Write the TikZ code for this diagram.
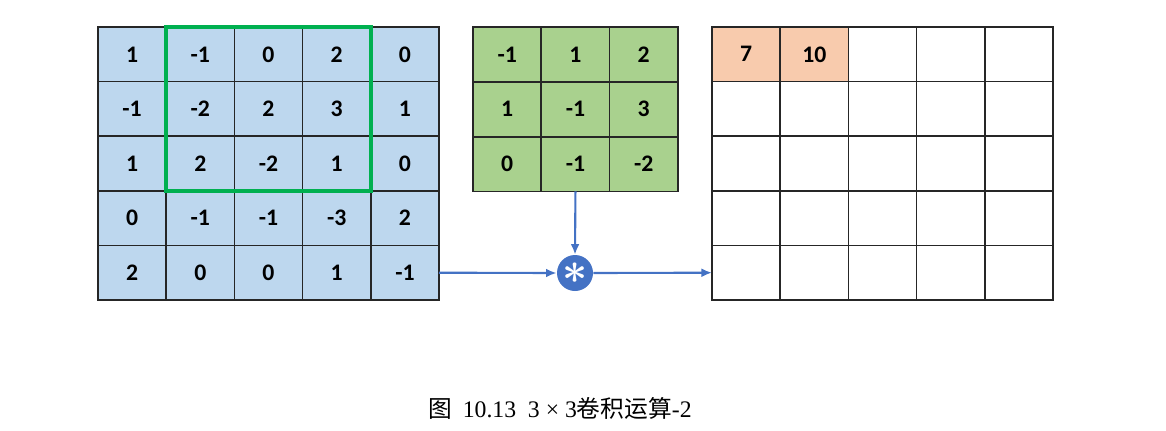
\documentclass[tikz,border=0pt]{standalone}
\usepackage{amsmath,bm}
\usepackage{fontspec}
\setmainfont{Liberation Serif}
\newfontfamily\cjk{Noto Sans CJK SC}
\newfontfamily\cellfont{Carlito}
\usetikzlibrary{arrows.meta}
\definecolor{infill}{HTML}{BDD7EE}
\definecolor{kfill}{HTML}{A9D18E}
\definecolor{outfill}{HTML}{F8CBAD}
\definecolor{winedge}{HTML}{00B050}
\definecolor{flow}{HTML}{4472C4}

\begin{document}
\begin{tikzpicture}[x=0.02cm,y=-0.02cm,>={Latex[length=6pt,width=5pt]},
  cell/.style={draw=black!85,line width=0.9pt,minimum width=1.364cm,minimum height=1.092cm,
    inner sep=0pt,outer sep=0pt,font=\cellfont\bfseries\fontsize{13.5}{15}\selectfont},
  incell/.style={cell,fill=infill},
  kcell/.style={cell,fill=kfill},
  outcell/.style={cell,fill=white},
  window/.style={draw=winedge,line width=2.4pt},
  conv/.style={circle,fill=flow,minimum size=0.72cm,inner sep=0pt,text=white},
  link/.style={->,draw=flow,line width=1.2pt}]
  \useasboundingbox (0,0) rectangle (1166,430);
  \foreach \row [count=\r] in {{1,-1,0,2,0},{-1,-2,2,3,1},{1,2,-2,1,0},{0,-1,-1,-3,2},{2,0,0,1,-1}}
    \foreach \v [count=\c] in \row
      \node[incell] (in-\r-\c) at ({98+68.2*(\c-0.5)},{27+54.6*(\r-0.5)}) {\v};
  \draw[window] (in-1-2.north west) rectangle (in-3-4.south east);
  \foreach \row [count=\r] in {{-1,1,2},{1,-1,3},{0,-1,-2}}
    \foreach \v [count=\c] in \row
      \node[kcell] (k-\r-\c) at ({473+68.3*(\c-0.5)},{27+54.8*(\r-0.5)}) {\v};
  \foreach \v/\f [count=\c] in {7/outfill,10/outfill,{}/white,{}/white,{}/white}
    \node[outcell,fill=\f] (out-1-\c) at ({712+68.2*(\c-0.5)},{27+54.6*0.5}) {\v};
  \foreach \r in {2,...,5}
    \foreach \c in {1,...,5}
      \node[outcell] (out-\r-\c) at ({712+68.2*(\c-0.5)},{27+54.6*(\r-0.5)}) {};
  \node[conv] (conv) at (575,273) {\fontsize{28}{28}\selectfont$\bm{\ast}$};
  \draw[link] (in-5-5.east) -- (conv.west);
  \draw[link] (k-3-2.south) -- (conv.north);
  \draw[link] (conv.east) -- (out-5-1.west);
  \node[font=\fontsize{13.5}{15}\selectfont] (caption) at (560,408)
    {{\cjk 图}\hspace{0.45em}10.13\enspace 3 × 3{\cjk 卷积运算}-2};
\end{tikzpicture}
\end{document}
